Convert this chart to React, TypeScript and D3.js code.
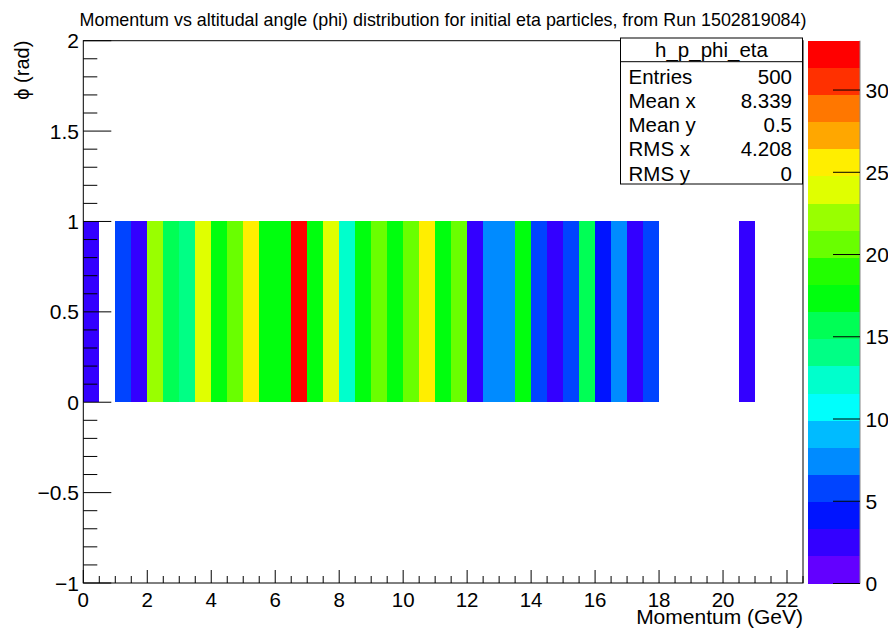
import React from "react";
import * as d3 from "d3";

const W = 888;
const H = 633;
const FONT = "'Liberation Sans', Arial, Helvetica, sans-serif";

const chartTitle =
  "Momentum vs altitudal angle (phi) distribution for initial eta particles, from Run 1502819084)";
const xTitle = "Momentum (GeV)";
const yTitle = "\u03d5 (rad)";

// x bins: width 0.5 GeV starting at 0; each bin filled for phi in [0,1]
const binWidth = 0.5;
const binCounts = [
  3, 0, 5, 3, 23, 15, 14, 24, 18, 20, 26, 18, 18, 33, 18, 24, 13, 18, 20, 18, 20,
  25, 18, 20, 3, 8, 7, 18, 5, 3, 5, 15, 4, 7, 3, 5, 0, 0, 0, 0, 0, 3,
];
const phiLow = 0;
const phiHigh = 1;

const xDomain = [0, 22.5];
const yDomain = [-1, 2];
const zDomain = [0, 33];
const nContours = 20;

const xMajorTicks = [0, 2, 4, 6, 8, 10, 12, 14, 16, 18, 20, 22];
const yMajorTicks = [-1, -0.5, 0, 0.5, 1, 1.5, 2];
const zMajorTicks = [0, 5, 10, 15, 20, 25, 30];

const statsTitle = "h_p_phi_eta";
const statsLabels = ["Entries", "Mean x", "Mean y", "RMS x", "RMS y"];
const statsValues = ["500", "8.339", "0.5", "4.208", "0"];

// ROOT "pretty" palette (50 colors, hue 280 -> 0)
function paletteColor(i: number): string {
  const hue = i < 49 ? 280 - (i + 1) * 5.6 : 0;
  return d3.hsl(hue, 1, 0.5).formatHex();
}
function contourColor(k: number): string {
  const idx = Math.floor(((k + 0.99) * 50) / nContours);
  return paletteColor(Math.min(49, idx));
}
function valueColor(v: number): string {
  const step = (zDomain[1] - zDomain[0]) / nContours;
  const k = Math.min(nContours - 1, Math.floor((v - zDomain[0]) / step + 1e-9));
  return contourColor(k);
}

const fmt = (v: number) => {
  const s = d3.format("~g")(v);
  return s.replace("-", "\u2212");
};

export default function App() {
  const left = 83.3;
  const right = 803;
  const top = 40.7;
  const bottom = 583;
  const x = d3.scaleLinear().domain(xDomain).range([left, right]);
  const y = d3.scaleLinear().domain(yDomain).range([bottom, top]);

  const zl = 808.3;
  const zr = 860;
  const z = d3.scaleLinear().domain(zDomain).range([583.5, top]);

  const xMinor = d3.range(0, 22.5 + 1e-9, 0.5).filter((v) => Math.abs(v / 2 - Math.round(v / 2)) > 1e-6);
  const yMinor = d3.range(-1, 2 + 1e-9, 0.1).filter((v) => Math.abs(v * 2 - Math.round(v * 2)) > 1e-6);

  const zStep = (zDomain[1] - zDomain[0]) / nContours;
  const zBands = d3.range(nContours);

  const sx0 = 620.5;
  const sx1 = 802.5;
  const sy0 = 38;
  const sy1 = 184;
  const sTitleLine = 61.7;

  return (
    <svg
      width={W}
      height={H}
      style={{ position: "absolute", left: 0, top: 0, background: "#fff" }}
      fontFamily={FONT}
    >
      <rect x={0} y={0} width={W} height={H} fill="#fff" />
      {/* title */}
      <text x={443} y={26} textAnchor="middle" fontSize={17.9} fill="#000">
        {chartTitle}
      </text>

      {/* bins */}
      <g shapeRendering="crispEdges">
        {binCounts.map((c, i) =>
          c > 0 ? (
            <rect
              key={i}
              x={x(i * binWidth)}
              y={y(phiHigh)}
              width={x((i + 1) * binWidth) - x(i * binWidth)}
              height={y(phiLow) - y(phiHigh)}
              fill={valueColor(c)}
            />
          ) : null
        )}
      </g>

      {/* frame */}
      <rect x={left} y={top} width={right - left} height={bottom - top} fill="none" stroke="#000" strokeWidth={1} />

      {/* ticks */}
      <g stroke="#000" strokeWidth={1}>
        {yMajorTicks.map((t) => (
          <line key={"ym" + t} x1={left} x2={left + 28} y1={y(t)} y2={y(t)} />
        ))}
        {yMinor.map((t, i) => (
          <line key={"yn" + i} x1={left} x2={left + 14} y1={y(t)} y2={y(t)} />
        ))}
        {xMajorTicks.map((t) => (
          <line key={"xm" + t} x1={x(t)} x2={x(t)} y1={bottom} y2={bottom - 13} />
        ))}
        {xMinor.map((t, i) => (
          <line key={"xn" + i} x1={x(t)} x2={x(t)} y1={bottom} y2={bottom - 7} />
        ))}
      </g>

      {/* y tick labels */}
      {yMajorTicks.map((t) => (
        <text key={"yl" + t} x={79} y={y(t) + 7.5} textAnchor="end" fontSize={21} fill="#000">
          {fmt(t)}
        </text>
      ))}
      {/* x tick labels */}
      {xMajorTicks.map((t) => (
        <text key={"xl" + t} x={x(t)} y={607} textAnchor="middle" fontSize={20.5} fill="#000">
          {fmt(t)}
        </text>
      ))}

      {/* axis titles */}
      <text x={right} y={624} textAnchor="end" fontSize={21} fill="#000">
        {xTitle}
      </text>
      <text
        transform={`translate(29, ${top}) rotate(-90)`}
        textAnchor="end"
        fontSize={20}
        fill="#000"
      >
        {yTitle}
      </text>

      {/* stats box */}
      <rect x={sx0} y={sy0} width={sx1 - sx0} height={sy1 - sy0} fill="#fff" stroke="#000" strokeWidth={1} />
      <line x1={sx0} x2={sx1} y1={sTitleLine} y2={sTitleLine} stroke="#000" strokeWidth={1} />
      <text x={(sx0 + sx1) / 2} y={57} textAnchor="middle" fontSize={20.5} fill="#000">
        {statsTitle}
      </text>
      {statsLabels.map((l, i) => (
        <g key={l}>
          <text x={628.5} y={83.5 + i * 24.3} fontSize={20.5} fill="#000">
            {l}
          </text>
          <text x={792} y={83.5 + i * 24.3} textAnchor="end" fontSize={20.5} fill="#000">
            {statsValues[i]}
          </text>
        </g>
      ))}

      {/* color palette */}
      <g shapeRendering="crispEdges">
        {zBands.map((k) => (
          <rect
            key={"zb" + k}
            x={zl}
            y={z(zDomain[0] + (k + 1) * zStep)}
            width={zr - zl}
            height={z(zDomain[0] + k * zStep) - z(zDomain[0] + (k + 1) * zStep)}
            fill={contourColor(k)}
          />
        ))}
      </g>
      <line x1={zr} x2={zr} y1={top} y2={z(zDomain[0])} stroke="#888" strokeWidth={1} />
      <g stroke="#000" strokeWidth={1}>
        {zMajorTicks.map((t) => (
          <line key={"zt" + t} x1={zr - 27} x2={zr} y1={z(t)} y2={z(t)} />
        ))}
      </g>
      {zMajorTicks.map((t) => (
        <text key={"zl" + t} x={865.5} y={z(t) + 7.5} fontSize={21} fill="#000">
          {fmt(t)}
        </text>
      ))}
    </svg>
  );
}
